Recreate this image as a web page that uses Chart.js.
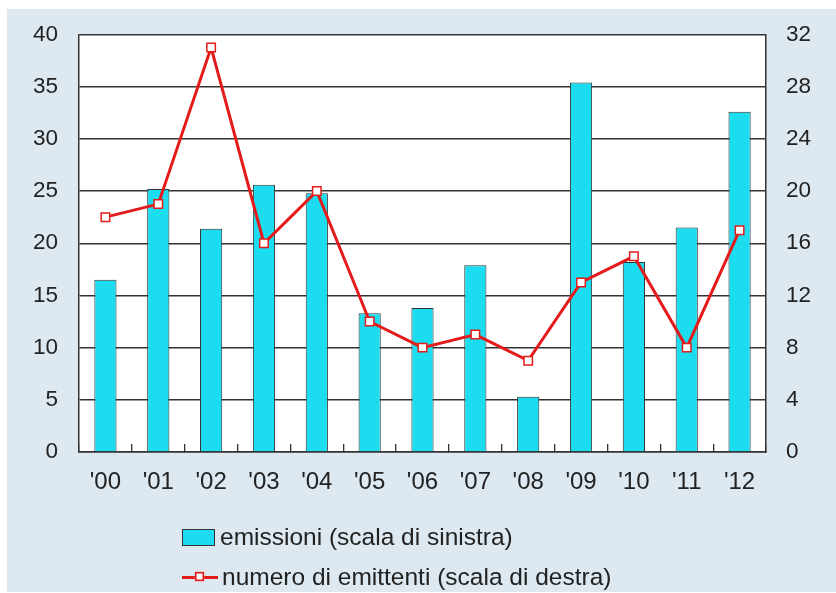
<!DOCTYPE html>
<html lang="it">
<head>
<meta charset="utf-8">
<title>Emissioni e numero di emittenti</title>
<script src="https://cdn.jsdelivr.net/npm/chart.js@4"></script>
<style>
    html, body { margin: 0; padding: 0; background: #ffffff; }
    #wrap { position: relative; width: 836px; height: 593px; overflow: hidden; }
    #panel { position: absolute; left: 7px; top: 9px; right: 0; bottom: 1px; background: #dde8f0; }
    #emissionichart { position: absolute; left: 0; top: 0; }
    .legend-item {
        position: absolute; left: 182px; height: 30px;
        display: flex; align-items: center;
        font-family: "Liberation Sans", Arial, sans-serif; font-size: 24.5px; color: #222;
        white-space: nowrap;
    }
    .swatch-bar { width: 31px; height: 15px; background: #1cdcf0; border: 1px solid #333; margin-right: 5px; }
    .swatch-line { position: relative; width: 36px; height: 3px; background: #e41b1b; margin-right: 4px; }
    .swatch-line span {
        position: absolute; left: 13px; top: -4px; width: 7px; height: 7px;
        background: #fff; border: 2px solid #e41b1b; box-sizing: content-box;
        transform: translate(-1px, -1px) scale(0.85);
    }
</style>
</head>
<body>
<div id="wrap">
    <div id="panel"></div>
    <canvas id="emissionichart" width="836" height="593"></canvas>
    <div class="legend-item" style="top: 522px;"><div class="swatch-bar"></div>emissioni (scala di sinistra)</div>
    <div class="legend-item" style="top: 562px;"><div class="swatch-line"><span></span></div>numero di emittenti (scala di destra)</div>
</div>
<script>
// Data block
const years = ["'00", "'01", "'02", "'03", "'04", "'05", "'06", "'07", "'08", "'09", "'10", "'11", "'12"];
const emissioni = [16.5, 25.2, 21.4, 25.6, 24.8, 13.3, 13.8, 17.9, 5.3, 35.4, 18.2, 21.5, 32.6];
const emittenti = [18, 19, 31, 16, 20, 10, 8, 9, 7, 13, 15, 8, 17];
const leftTicks = [0, 5, 10, 15, 20, 25, 30, 35, 40];
const rightTicks = [0, 4, 8, 12, 16, 20, 24, 28, 32];

const axisColor = '#333333';
const fontFamily = '"Liberation Sans", Arial, sans-serif';

// White plot area plugin block
const plotBackground = {
    id: 'plotBackground',
    beforeDraw(chart) {
        const {ctx, chartArea} = chart;
        ctx.save();
        ctx.fillStyle = '#ffffff';
        ctx.fillRect(chartArea.left, chartArea.top, chartArea.width, chartArea.height);
        ctx.restore();
    }
}

// Setup block
const emissioniData = {
    labels: years,
    datasets: [{
        type: 'line',
        label: 'numero di emittenti (scala di destra)',
        data: emittenti,
        yAxisID: 'y1',
        order: 0,  // line on top of the bars
        borderColor: '#e41b1b',
        borderWidth: 3,
        tension: 0,
        pointStyle: 'rect',
        pointRadius: 6,
        pointBackgroundColor: '#ffffff',
        pointBorderColor: '#e41b1b',
        pointBorderWidth: 1.5
    }, {
        type: 'bar',
        label: 'emissioni (scala di sinistra)',
        data: emissioni,
        yAxisID: 'y',
        order: 1,
        backgroundColor: '#1cdcf0',
        borderColor: axisColor,
        borderWidth: 1,
        barPercentage: 0.42,
        categoryPercentage: 1
    }]  // End datasets
};  // End data

// Config block
const emissioniConfig = {
    data: emissioniData,
    options: {
        responsive: false,
        animation: false,
        layout: {
            padding: { top: 33, bottom: 81, left: 0, right: 0 }
        },
        plugins: {
            legend: { display: false },  // legend is drawn below in HTML
            tooltip: { enabled: false }
        },  // End Plugins
        scales: {
            x: {
                offset: true,
                afterFit(scale) { scale.height = 60; },
                grid: {
                    offset: true,
                    drawOnChartArea: false,
                    drawTicks: true,
                    tickLength: -8,  // small marks pointing up into the plot
                    color: axisColor,
                    lineWidth: 1.3
                },
                border: { color: axisColor, width: 1.5 },
                ticks: {
                    color: '#222',
                    padding: 24,
                    font: { family: fontFamily, size: 24 }
                }
            },
            y: {
                position: 'left',
                min: 0,
                max: 40,
                afterFit(scale) { scale.width = 79; },
                afterBuildTicks(scale) { scale.ticks = leftTicks.map(v => ({ value: v })); },
                grid: { color: axisColor, lineWidth: 1.4, drawTicks: false },
                border: { color: axisColor, width: 1.5 },
                ticks: { color: '#222', padding: 21, font: { family: fontFamily, size: 22.5 } }
            },
            y1: {
                position: 'right',
                min: 0,
                max: 32,
                afterFit(scale) { scale.width = 70; },
                afterBuildTicks(scale) { scale.ticks = rightTicks.map(v => ({ value: v })); },
                grid: { drawOnChartArea: false, drawTicks: false },
                border: { color: axisColor, width: 1.5 },
                ticks: { color: '#222', padding: 20, font: { family: fontFamily, size: 22.5 } }
            }
        }  // End scales
    },  // End options
    plugins: [plotBackground]
};  // End config

// render / init block
const emissioniChart = new Chart(
    document.getElementById('emissionichart'),
    emissioniConfig
);  // End Chart
</script>
</body>
</html>
